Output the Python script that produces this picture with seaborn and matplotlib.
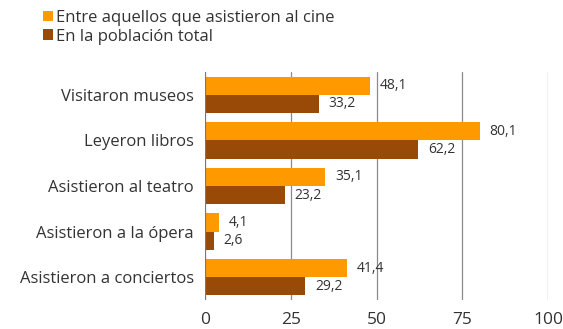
import pandas as pd
import numpy as np
import matplotlib.pyplot as plt
import seaborn as sns

categorias = ['Visitaron museos', 'Leyeron libros', 'Asistieron al teatro',
              'Asistieron a la ópera', 'Asistieron a conciertos']
cine = [48.1, 80.1, 35.1, 4.1, 41.4]
total = [33.2, 62.2, 23.2, 2.6, 29.2]
series = ['Entre aquellos que asistieron al cine', 'En la población total']
colores = ['#FF9900', '#9A4A07']

df = pd.DataFrame({
    'cat': categorias * 2,
    'valor': cine + total,
    'serie': [series[0]] * 5 + [series[1]] * 5,
})

sns.set_style('white')
plt.rcParams['font.family'] = ['Open Sans', 'DejaVu Sans']

fig = plt.figure(figsize=(5.63, 3.29), dpi=100)
ax = fig.add_axes([205 / 563, 1 - 300 / 329, 343 / 563, 228 / 329])

sns.barplot(data=df, y='cat', x='valor', hue='serie', hue_order=series,
            palette=colores, saturation=1, orient='h', width=0.8, ax=ax,
            zorder=3, edgecolor='none', legend=True)

# etiquetas de valores
for cont in ax.containers:
    labels = [f'{v:.1f}'.replace('.', ',') for v in cont.datavalues]
    ax.bar_label(cont, labels=labels, padding=7, fontsize=10, color='#333333')

ax.set_xlim(0, 100)
ax.set_ylim(4.5, -0.5)
ax.set_xticks([0, 25, 50, 75, 100])
for x in [25, 50, 75, 100]:
    ax.axvline(x, color='#8a8a8a', lw=0.9, zorder=1)
ax.axvline(0, color='#777777', lw=1.6, zorder=4)
for s in ax.spines.values():
    s.set_visible(False)
ax.tick_params(axis='x', length=0, pad=9, labelsize=12.5, labelcolor='#333333')
ax.tick_params(axis='y', length=0, pad=8, labelsize=12, labelcolor='#333333')
ax.set_xlabel('')
ax.set_ylabel('')

h, l = ax.get_legend_handles_labels()
ax.get_legend().remove()
fig.legend(h, l, loc='upper left', bbox_to_anchor=(0.05, 1.015), frameon=False,
           fontsize=12, handlelength=0.6, handleheight=0.6, handletextpad=0.2,
           labelspacing=0.15, labelcolor='#333333')

fig.savefig('out.png', dpi=100)
